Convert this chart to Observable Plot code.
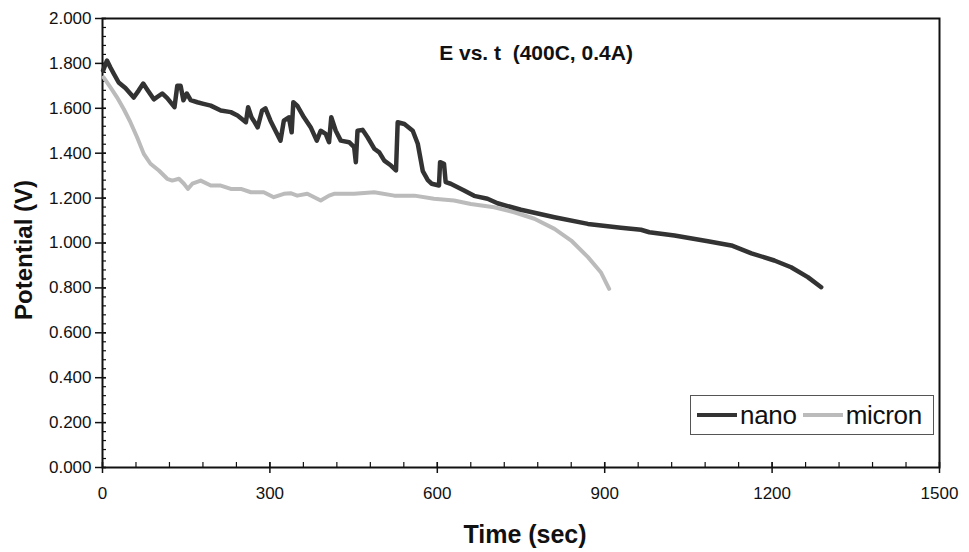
<!DOCTYPE html>
<html>
<head>
<meta charset="utf-8">
<script src="https://cdn.jsdelivr.net/npm/d3@7"></script>
<script src="https://cdn.jsdelivr.net/npm/@observablehq/plot@0.6"></script>
<style>
  html, body { margin: 0; padding: 0; background: #fff; }
  #wrap { position: relative; width: 969px; height: 552px; font-family: "Liberation Sans", Arial, sans-serif; }
  #legend { position: absolute; left: 690px; top: 395px; width: 244px; height: 40px; border: 1.5px solid #555;
            display: flex; align-items: center; box-sizing: border-box; padding-left: 6px; font-size: 26px; color: #111; background: #fff; letter-spacing: -0.3px; }
  #legend .sw { display: inline-block; width: 40px; height: 4px; margin-right: 3px; }
  #legend .lab { margin-right: 6px; line-height: 1; }
</style>
</head>
<body>
<div id="wrap"></div>
<script>
// ---- data ----
const chartTitle = "E vs. t\u00a0 (400C, 0.4A)";
const xLabel = "Time (sec)";
const yLabel = "Potential (V)";
const seriesNames = ["nano", "micron"];
const seriesColors = ["#333333", "#bbbbbb"];

const nanoTime = [1, 8, 14, 20, 29, 41, 56, 65, 73, 80, 92, 107, 116, 129, 134, 140, 145, 151, 158, 170, 181, 194, 212, 230, 242, 257, 261, 267, 271, 278, 286, 292, 301, 310, 319, 325, 334, 339, 342, 349, 361, 373, 384, 391, 400, 406, 410, 418, 427, 442, 451, 454, 457, 466, 475, 487, 496, 505, 517, 526, 529, 541, 556, 565, 574, 583, 590, 603, 605, 612, 615, 624, 648, 666, 690, 708, 750, 810, 870, 929, 965, 980, 1025, 1085, 1127, 1163, 1204, 1234, 1264, 1288];
const nanoVolt = [1.768, 1.813, 1.783, 1.755, 1.715, 1.690, 1.648, 1.680, 1.710, 1.684, 1.640, 1.666, 1.645, 1.605, 1.700, 1.700, 1.636, 1.666, 1.636, 1.627, 1.620, 1.612, 1.590, 1.583, 1.568, 1.538, 1.605, 1.560, 1.545, 1.515, 1.590, 1.600, 1.545, 1.500, 1.456, 1.545, 1.560, 1.493, 1.627, 1.612, 1.560, 1.516, 1.456, 1.500, 1.486, 1.449, 1.560, 1.500, 1.456, 1.449, 1.427, 1.360, 1.500, 1.504, 1.471, 1.420, 1.404, 1.367, 1.345, 1.323, 1.538, 1.530, 1.500, 1.442, 1.320, 1.280, 1.264, 1.256, 1.360, 1.353, 1.271, 1.264, 1.234, 1.210, 1.197, 1.177, 1.148, 1.115, 1.085, 1.068, 1.059, 1.048, 1.033, 1.008, 0.989, 0.954, 0.922, 0.892, 0.848, 0.803];

const micronTime = [2, 14, 26, 38, 50, 62, 74, 86, 101, 116, 125, 137, 146, 153, 161, 176, 194, 212, 230, 248, 266, 289, 307, 325, 337, 349, 367, 391, 406, 415, 451, 487, 523, 559, 594, 630, 660, 702, 738, 774, 810, 840, 870, 893, 908];
const micronVolt = [1.738, 1.694, 1.649, 1.597, 1.538, 1.471, 1.397, 1.353, 1.323, 1.286, 1.278, 1.286, 1.264, 1.241, 1.264, 1.278, 1.256, 1.256, 1.241, 1.241, 1.226, 1.226, 1.204, 1.219, 1.222, 1.211, 1.219, 1.189, 1.211, 1.219, 1.219, 1.226, 1.211, 1.211, 1.197, 1.189, 1.174, 1.159, 1.137, 1.108, 1.063, 1.011, 0.937, 0.870, 0.796];

const xMajorTicks = [0, 300, 600, 900, 1200, 1500];
const xMinorTicks = d3.range(0, 1501, 60);
const yMajorTicks = [0, 0.2, 0.4, 0.6, 0.8, 1.0, 1.2, 1.4, 1.6, 1.8, 2.0];
const yMinorTicks = d3.range(0, 50.5, 1).map(i => i * 0.04);

// ---- tidy table built from the arrays ----
const nano = nanoTime.map((t, i) => ({t, v: nanoVolt[i], s: "nano"}));
const micron = micronTime.map((t, i) => ({t, v: micronVolt[i], s: "micron"}));

const font = "Liberation Sans, Arial, sans-serif";
const chart = Plot.plot({
  width: 969,
  height: 552,
  marginLeft: 102,
  marginRight: 30,
  marginTop: 18,
  marginBottom: 85,
  style: {fontFamily: font, fontSize: "17px", color: "#111", background: "#fff"},
  x: {domain: [0, 1500], label: null},
  y: {domain: [0, 2], label: null},
  marks: [
    Plot.frame({stroke: "#111", strokeWidth: 2}),
    // minor ticks (inside)
    Plot.axisX({ticks: xMinorTicks, tickSize: 5, dy: -5, text: null, label: null, stroke: "#111", strokeWidth: 1.2}),
    Plot.axisY({ticks: yMinorTicks, tickSize: 4, dx: 4, text: null, label: null, stroke: "#111", strokeWidth: 1.2}),
    // major ticks (crossing)
    Plot.axisX({ticks: xMajorTicks, tickSize: 11, dy: -5, text: null, label: null, stroke: "#111", strokeWidth: 1.5}),
    Plot.axisY({ticks: yMajorTicks, tickSize: 11, dx: 4, text: null, label: null, stroke: "#111", strokeWidth: 1.5}),
    // tick labels
    Plot.axisX({ticks: xMajorTicks, tickSize: 0, tickPadding: 19, tickFormat: d3.format("d"), label: null, fontSize: 17, fill: "#111"}),
    Plot.axisY({ticks: yMajorTicks, tickSize: 0, tickPadding: 11, tickFormat: d3.format(".3f"), label: null, fontSize: 17, fill: "#111"}),
    // series
    Plot.line(micron, {x: "t", y: "v", stroke: seriesColors[1], strokeWidth: 4, strokeLinejoin: "round", strokeLinecap: "round"}),
    Plot.line(nano, {x: "t", y: "v", stroke: seriesColors[0], strokeWidth: 4.5, strokeLinejoin: "round", strokeLinecap: "round"}),
    // texts
    Plot.text([chartTitle], {text: d => d, frameAnchor: "top", textAnchor: "middle", dx: 15, dy: 27, fontSize: 21, fontWeight: "bold", fill: "#111", letterSpacing: "-0.6px"}),
    Plot.text([xLabel], {text: d => d, frameAnchor: "bottom", textAnchor: "middle", dx: 4, dy: 75, fontSize: 25, fontWeight: "bold", fill: "#111", letterSpacing: "-0.8px"}),
    Plot.text([yLabel], {text: d => d, frameAnchor: "left", textAnchor: "middle", dx: -78, dy: 7, rotate: -90, fontSize: 24, fontWeight: "bold", fill: "#111", letterSpacing: "-0.6px"})
  ]
});

const wrap = document.getElementById("wrap");
wrap.appendChild(chart);

// legend
const legend = document.createElement("div");
legend.id = "legend";
seriesNames.forEach((name, i) => {
  const sw = document.createElement("span");
  sw.className = "sw";
  sw.style.background = seriesColors[i];
  const lab = document.createElement("span");
  lab.className = "lab";
  lab.textContent = name;
  legend.appendChild(sw);
  legend.appendChild(lab);
});
wrap.appendChild(legend);
</script>
</body>
</html>
